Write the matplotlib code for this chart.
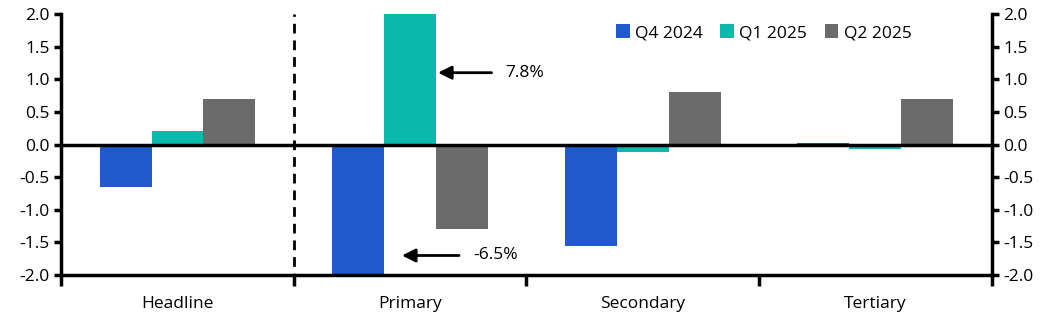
import numpy as np
import matplotlib.pyplot as plt
from matplotlib.ticker import FixedLocator, FormatStrFormatter

plt.rcParams['font.family'] = ['Open Sans', 'DejaVu Sans']

categories = ['Headline', 'Primary', 'Secondary', 'Tertiary']
series_names = ['Q4 2024', 'Q1 2025', 'Q2 2025']
q4_2024 = [-0.65, -6.5, -1.55, 0.03]
q1_2025 = [0.2, 7.8, -0.12, -0.07]
q2_2025 = [0.7, -1.3, 0.8, 0.7]
colors = ['#2059cc', '#0bb9ad', '#6b6b6b']

fig = plt.figure(figsize=(10.56, 3.24), dpi=100)
ax = fig.add_axes([0.058, 0.151, 0.881, 0.806])

x = np.arange(len(categories))
width = 0.223
for i, (vals, name, c) in enumerate(zip([q4_2024, q1_2025, q2_2025], series_names, colors)):
    ax.bar(x + (i - 1) * width, vals, width, color=c, label=name, zorder=2)

ax.set_xlim(-0.5, len(categories) - 0.5)
ax.set_ylim(-2, 2)
ax.axhline(0, color='black', lw=2.5, zorder=3)
ax.axvline(0.5, color='black', lw=2, ls=(0, (3.5, 2.5)), zorder=3, clip_on=False,
           ymin=-0.03, ymax=1)

# y axis on both sides
ax.set_yticks(np.arange(-2, 2.01, 0.5))
ax.yaxis.set_major_formatter(FormatStrFormatter('%.1f'))
ax.tick_params(axis='y', which='both', direction='out', length=5, width=2.5,
               labelsize=12.5, left=True, right=True, labelleft=True, labelright=True)

# category labels centered, ticks between groups
ax.set_xticks(x)
ax.set_xticklabels(categories)
ax.xaxis.set_minor_locator(FixedLocator(np.arange(-0.5, len(categories), 1.0)))
ax.tick_params(axis='x', which='major', length=0, labelsize=12.5, pad=15)
ax.tick_params(axis='x', which='minor', length=8, width=2.5, direction='out')

for side in ['left', 'right', 'bottom']:
    ax.spines[side].set_linewidth(2.5)
ax.spines['top'].set_visible(False)

arrow = dict(arrowstyle='-|>', color='black', lw=2, mutation_scale=20,
             shrinkA=8, shrinkB=0)
ax.annotate('7.8%', xy=(1.12, 1.1), xytext=(1.41, 1.1), fontsize=12.5, va='center',
            arrowprops=arrow)
ax.annotate('-6.5%', xy=(0.965, -1.7), xytext=(1.27, -1.7), fontsize=12.5, va='center',
            arrowprops=arrow)

ax.legend(loc='upper left', bbox_to_anchor=(0.585, 1.0), ncol=3, frameon=False,
          fontsize=12.5, handlelength=0.8, handleheight=0.8, handletextpad=0.3,
          columnspacing=1.0, borderaxespad=0.2)

fig.savefig('out.png', dpi=100)
